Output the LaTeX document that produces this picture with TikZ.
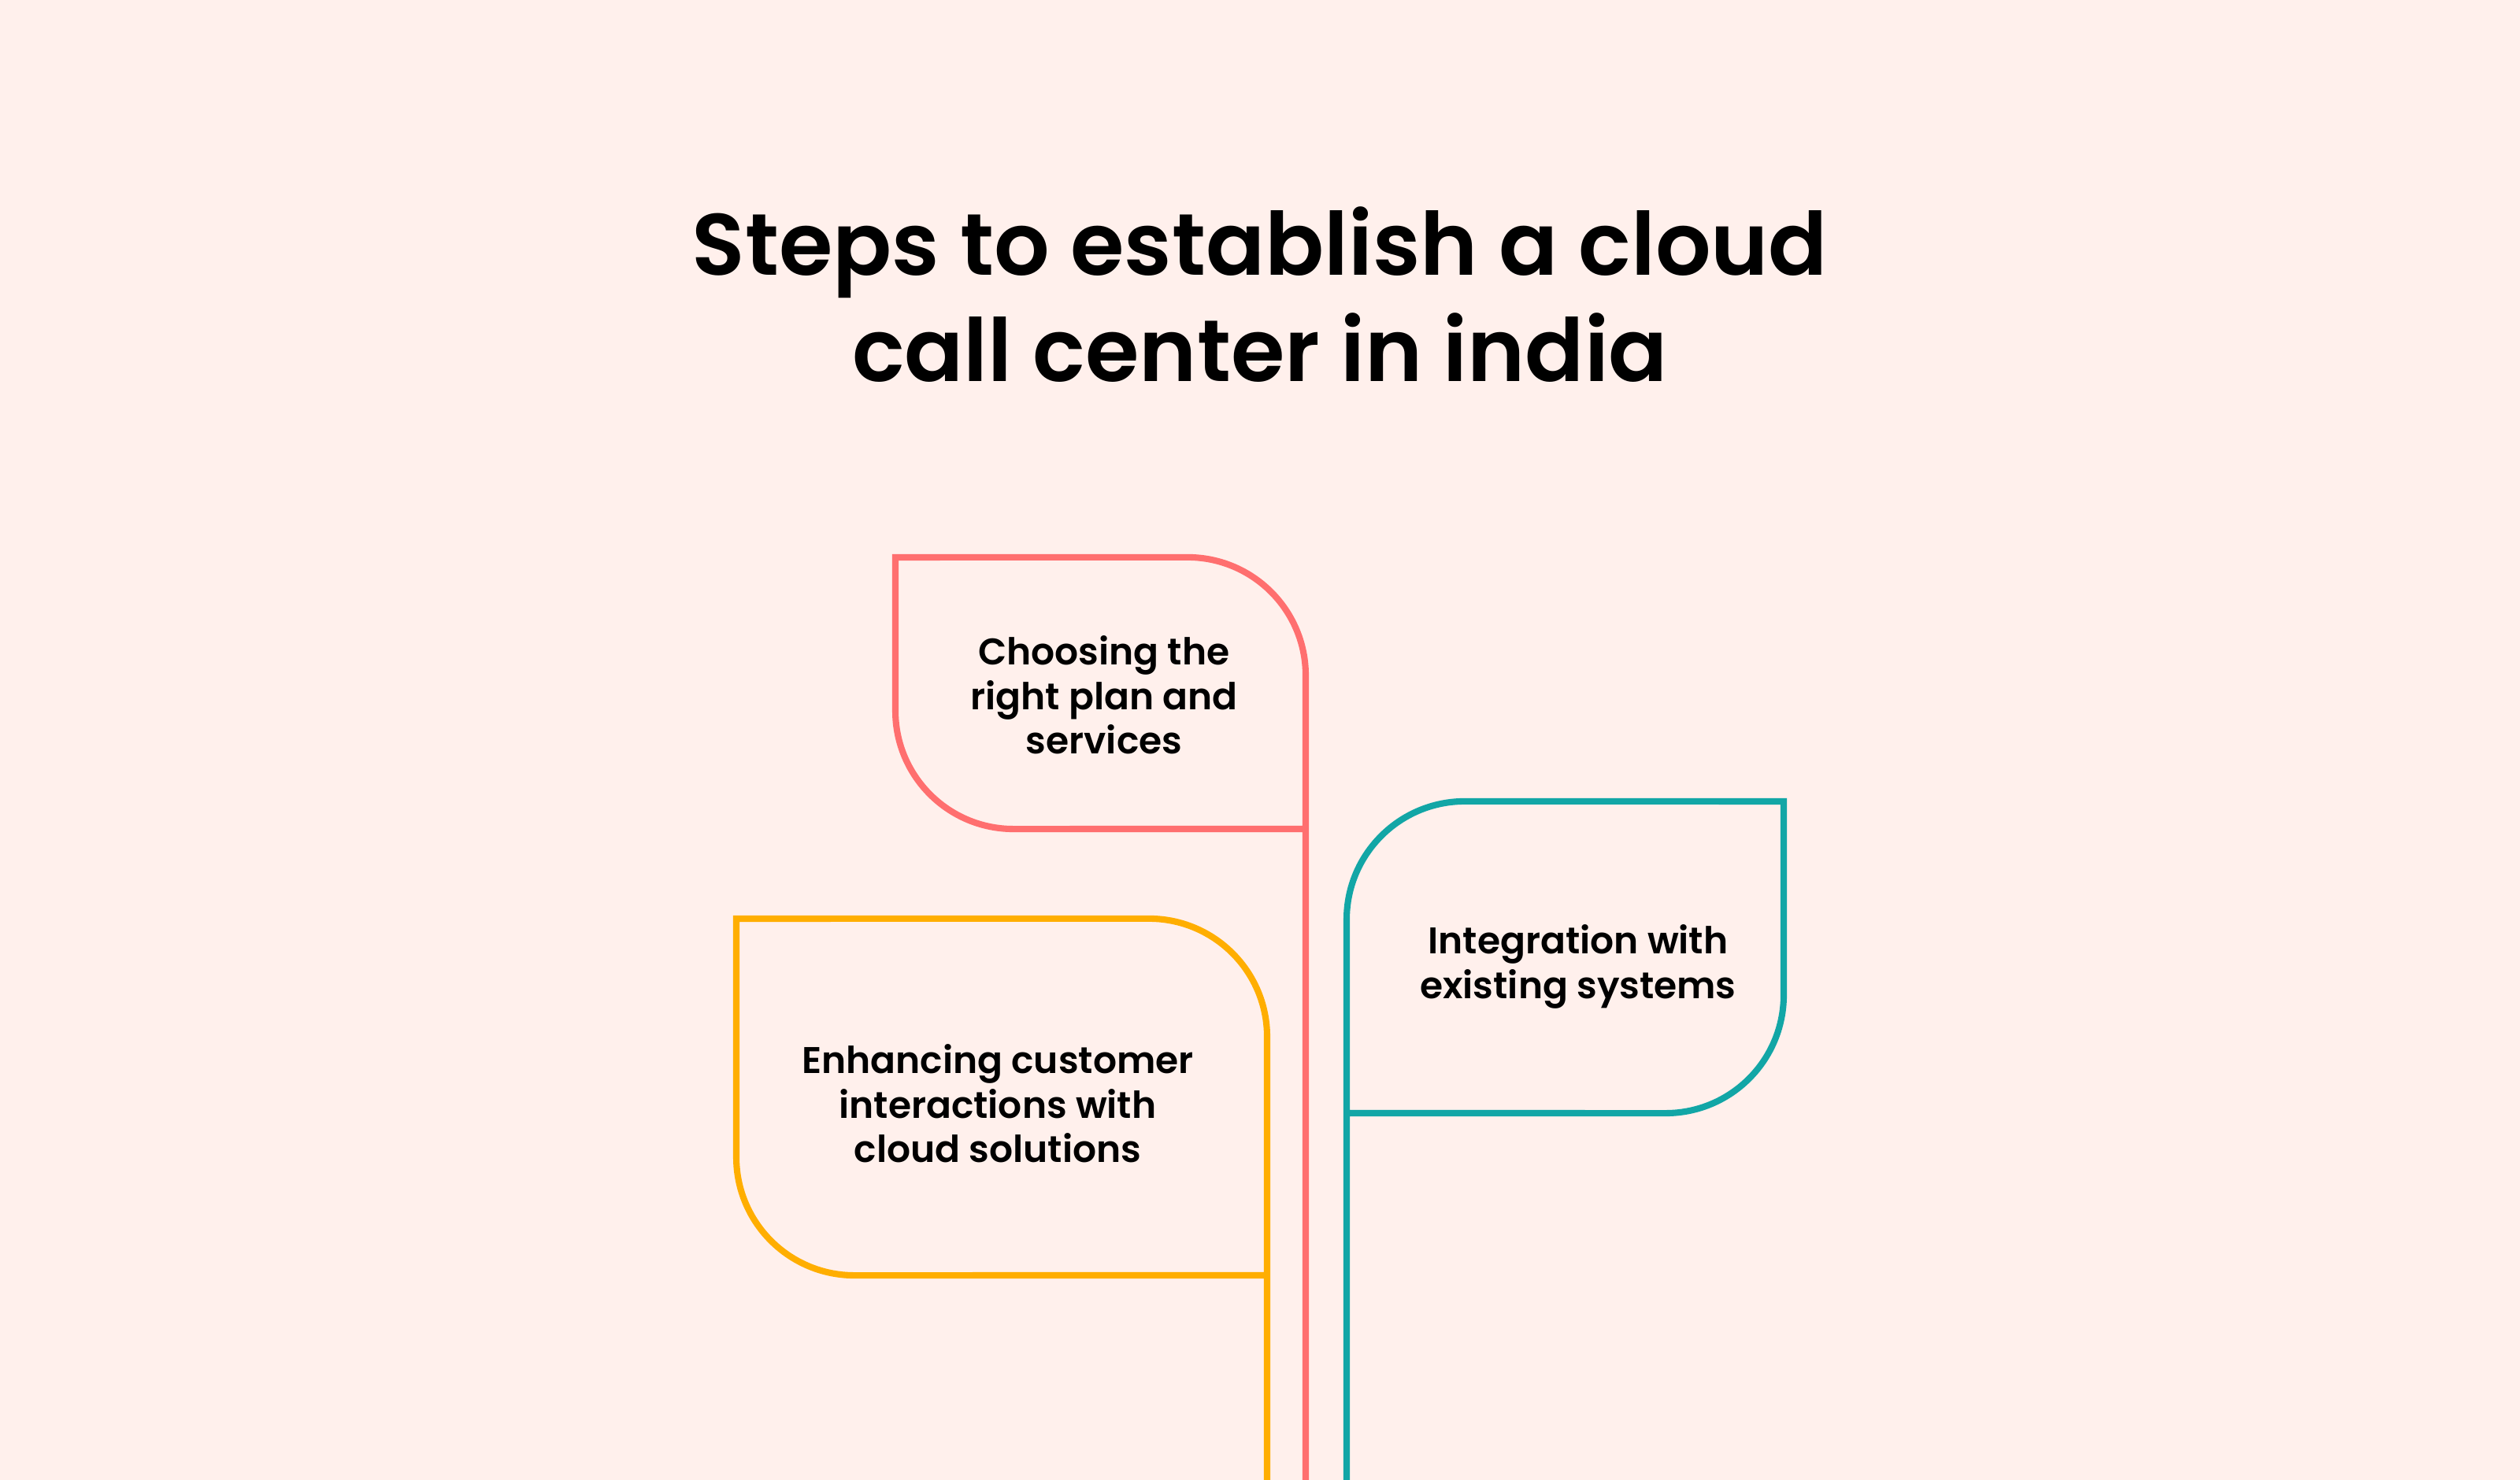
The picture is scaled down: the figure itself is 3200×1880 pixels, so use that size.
\documentclass[tikz,border=0pt]{standalone}
\usepackage{fontspec}
\setmainfont{Poppins}
\newfontfamily\titlefont{Poppins SemiBold}
\newfontfamily\bodyfont{Poppins SemiBold}
\definecolor{bg}{HTML}{FFF0EC}
\definecolor{cred}{HTML}{FF6F6F}
\definecolor{cteal}{HTML}{12A6A6}
\definecolor{cyel}{HTML}{FFAE00}
\begin{document}
\begin{tikzpicture}[x=0.01cm,y=0.01cm,
  stepline/.style={line width=2.3pt,line join=miter},
  steptext/.style={font=\bodyfont\fontsize{13.4}{16}\selectfont,align=center,text=black},
  titletext/.style={font=\titlefont\fontsize{31.5}{38.4}\selectfont,align=center,text=black}]
\fill[bg] (0,0) rectangle (3200,1880);
\useasboundingbox (0,0) rectangle (3200,1880);
\node[titletext] (title) at (1600,1506) {Steps to establish a cloud\\call center in india};
% red step
\draw[stepline,cred] (1658,0) -- (1658,1022) arc[start angle=0,end angle=90,radius=1.5cm] -- (1137,1172) -- (1137,977) arc[start angle=180,end angle=270,radius=1.5cm] -- (1658,827);
% teal step
\draw[stepline,cteal] (1710,0) -- (1710,712) arc[start angle=180,end angle=90,radius=1.5cm] -- (2265,862) -- (2265,616) arc[start angle=0,end angle=-90,radius=1.5cm] -- (1710,466);
% yellow step
\draw[stepline,cyel] (1609,0) -- (1609,563) arc[start angle=0,end angle=90,radius=1.5cm] -- (935,713) -- (935,410) arc[start angle=180,end angle=270,radius=1.5cm] -- (1609,260);
\node[steptext] (s1) at (1402,997) {Choosing the\\right plan and\\services};
\node[steptext] (s2) at (2004,652) {Integration with\\existing systems};
\node[steptext] (s3) at (1267,478) {Enhancing customer\\interactions with\\cloud solutions};
\end{tikzpicture}
\end{document}
